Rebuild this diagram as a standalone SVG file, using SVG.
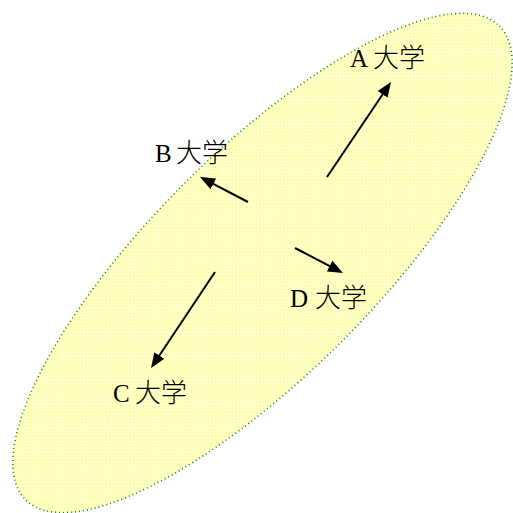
<svg xmlns="http://www.w3.org/2000/svg" width="513" height="513" viewBox="0 0 513 513">
  <style>
    .lbl { font-family: "Liberation Serif", "Noto Sans CJK JP", serif; font-size: 25px; fill: #000; }
    .cjk { font-family: "Noto Sans CJK JP", sans-serif; font-weight: 300; font-size: 26px; }
    .arr { stroke: #000; stroke-width: 2; fill: none; marker-end: url(#head); }
  </style>
  <defs>
    <pattern id="dots" width="2" height="2" patternUnits="userSpaceOnUse">
      <rect width="2" height="2" fill="#ffffff"/>
      <rect x="0" y="0" width="1" height="1" fill="#ffff80"/>
      <rect x="1" y="1" width="1" height="1" fill="#ffff80"/>
    </pattern>
    <marker id="head" markerUnits="userSpaceOnUse" markerWidth="16" markerHeight="12" refX="12" refY="6" orient="auto">
      <path d="M0,0 L15,6 L0,12 z" fill="#000"/>
    </marker>
  </defs>
  <g id="region">
    <ellipse cx="262.5" cy="263" rx="335" ry="111.5" transform="rotate(-45 262.5 263)" fill="url(#dots)" stroke="#008a00" stroke-width="1.6" stroke-dasharray="1 3"/>
  </g>
  <g id="connectors">
    <line class="arr" x1="327" y1="177" x2="389.3" y2="84.5"/>
    <line class="arr" x1="248" y1="202" x2="202.7" y2="178.4"/>
    <line class="arr" x1="295" y1="248" x2="340.3" y2="271.6"/>
    <line class="arr" x1="215" y1="272" x2="152.7" y2="365.5"/>
  </g>
  <g id="nodeA"><text class="lbl" x="350" y="67">A<tspan class="cjk" x="373">大学</tspan></text></g>
  <g id="nodeB"><text class="lbl" x="155" y="162">B<tspan class="cjk" x="176">大学</tspan></text></g>
  <g id="nodeD"><text class="lbl" x="290" y="307">D<tspan class="cjk" x="315">大学</tspan></text></g>
  <g id="nodeC"><text class="lbl" x="113" y="402">C<tspan class="cjk" x="135">大学</tspan></text></g>
</svg>
